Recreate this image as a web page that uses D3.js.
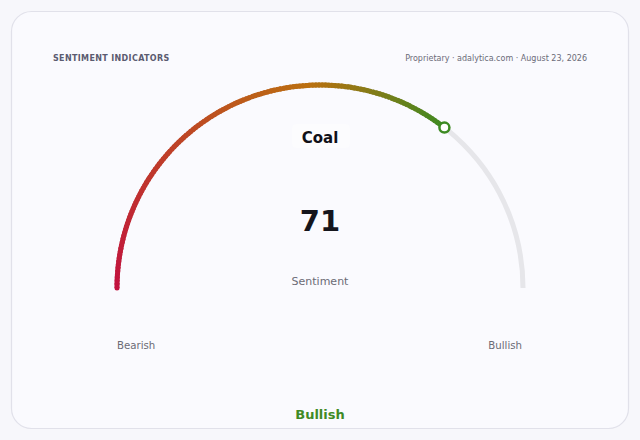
<!DOCTYPE html>
<html>
<head>
<meta charset="utf-8">
<script src="https://cdn.jsdelivr.net/npm/d3@7"></script>
<style>
  html, body { margin: 0; padding: 0; background: #f7f7fb; }
  svg { display: block; font-family: "DejaVu Sans", sans-serif; }
</style>
</head>
<body>
<div id="chart"></div>
<script>
// gauge data
const instrument = 'Coal';
const score = 71;
const scoreDomain = [0, 100];
const endLabels = ['Bearish', 'Bullish'];
const verdict = 'Bullish';
const gradientStops = ['#c2123f', '#bb7010', '#3c8a22'];
const headerTitle = 'SENTIMENT INDICATORS';
const headerSource = 'Proprietary \u00b7 adalytica.com \u00b7 August 23, 2026';

const width = 640, height = 440;
const cx = 320, cy = 288, radius = 203;

const svg = d3.select('#chart').append('svg')
    .attr('width', width)
    .attr('height', height);

// card
svg.append('rect')
    .attr('x', 11.5).attr('y', 11.5)
    .attr('width', 617).attr('height', 417)
    .attr('rx', 20)
    .style('fill', '#fafafe')
    .style('stroke', '#e1e1ea')
    .style('stroke-width', 1.2);

svg.append('text')
    .attr('x', 53).attr('y', 61)
    .style('font-size', '8px')
    .style('font-weight', 700)
    .style('letter-spacing', '0.35px')
    .style('fill', '#5b5b70')
    .text(headerTitle);

svg.append('text')
    .attr('x', 587).attr('y', 61)
    .attr('text-anchor', 'end')
    .style('font-size', '8px')
    .style('fill', '#6b6b78')
    .text(headerSource);

// angle scale: value -> radians (0 at top)
const angle = d3.scaleLinear().domain(scoreDomain).range([-Math.PI / 2, Math.PI / 2]);
const colorAt = d3.scaleLinear()
    .domain([scoreDomain[0], scoreDomain[0] + (score - scoreDomain[0]) * 0.68, score])
    .range(gradientStops)
    .interpolate(d3.interpolateRgb);

const g = svg.append('g').attr('transform', `translate(${cx},${cy})`);

function arcPath(a0, a1) {
    return d3.arc()({ innerRadius: radius, outerRadius: radius, startAngle: a0, endAngle: a1 });
}

// track
g.append('path')
    .attr('d', arcPath(angle(scoreDomain[0]), angle(scoreDomain[1])))
    .style('fill', 'none')
    .style('stroke', '#e6e6ea')
    .style('stroke-width', 5)
    .style('stroke-linecap', 'round');

// value arc in small coloured steps
const nSteps = 140;
const stepSize = (score - scoreDomain[0]) / nSteps;
const steps = d3.range(0, nSteps).map(i => scoreDomain[0] + stepSize * i);
g.selectAll('path.seg')
    .data(steps)
    .join('path')
    .attr('class', 'seg')
    .attr('d', d => arcPath(angle(d), angle(Math.min(score, d + stepSize * 1.6))))
    .style('fill', 'none')
    .style('stroke', d => colorAt(d + stepSize / 2))
    .style('stroke-width', 5)
    .style('stroke-linecap', 'butt');

// round start cap
g.append('circle')
    .attr('cx', radius * Math.sin(angle(scoreDomain[0])))
    .attr('cy', -radius * Math.cos(angle(scoreDomain[0])))
    .attr('r', 2.5)
    .style('fill', gradientStops[0]);

// marker
g.append('circle')
    .attr('cx', radius * Math.sin(angle(score)))
    .attr('cy', -radius * Math.cos(angle(score)))
    .attr('r', 5)
    .style('fill', '#ffffff')
    .style('stroke', gradientStops[2])
    .style('stroke-width', 2.5);

// centre texts
svg.append('rect')
    .attr('x', 292).attr('y', 124)
    .attr('width', 58).attr('height', 24)
    .attr('rx', 4)
    .style('fill', '#ffffff')
    .style('opacity', 0.35);

svg.append('text')
    .attr('x', cx).attr('y', 143)
    .attr('text-anchor', 'middle')
    .style('font-size', '15px')
    .style('font-weight', 700)
    .style('fill', '#111118')
    .text(instrument);

svg.append('text')
    .attr('x', cx).attr('y', 231)
    .attr('text-anchor', 'middle')
    .style('font-size', '29px')
    .style('font-weight', 700)
    .style('fill', '#15151c')
    .text(score);

svg.append('text')
    .attr('x', cx).attr('y', 285)
    .attr('text-anchor', 'middle')
    .style('font-size', '11px')
    .style('fill', '#6b6b75')
    .text('Sentiment');

svg.append('text')
    .attr('x', 117).attr('y', 349)
    .style('font-size', '10.2px')
    .style('fill', '#6b6b75')
    .text(endLabels[0]);

svg.append('text')
    .attr('x', 522).attr('y', 349)
    .attr('text-anchor', 'end')
    .style('font-size', '10.2px')
    .style('fill', '#6b6b75')
    .text(endLabels[1]);

svg.append('text')
    .attr('x', cx).attr('y', 419)
    .attr('text-anchor', 'middle')
    .style('font-size', '13px')
    .style('font-weight', 700)
    .style('fill', '#3f8a25')
    .text(verdict);
</script>
</body>
</html>
